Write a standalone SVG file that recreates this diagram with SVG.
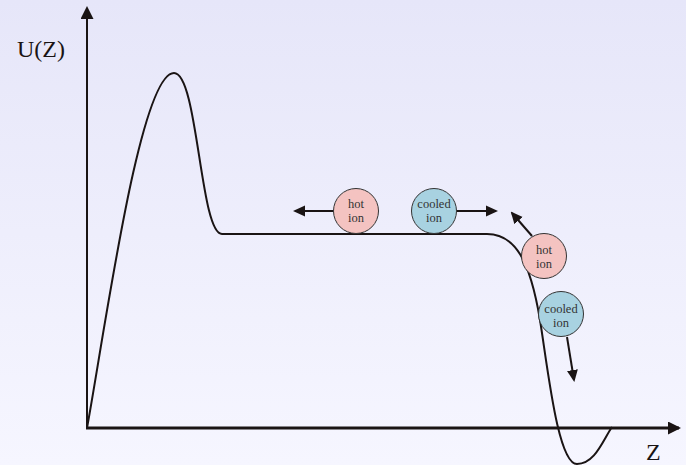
<svg xmlns="http://www.w3.org/2000/svg" width="686" height="465" viewBox="0 0 686 465">
<defs>
<linearGradient id="bg" x1="0" y1="0" x2="0" y2="1">
<stop offset="0" stop-color="#e6e6f9"/>
<stop offset="1" stop-color="#f6f6ff"/>
</linearGradient>
<marker id="ah" markerWidth="12" markerHeight="12" refX="10" refY="6" orient="auto" markerUnits="userSpaceOnUse" viewBox="0 0 12 12">
<path d="M0,0.5 L12,6 L0,11.5 z" fill="#1a1414"/>
</marker>
<marker id="axh" markerWidth="13" markerHeight="13" refX="11" refY="6.5" orient="auto" markerUnits="userSpaceOnUse" viewBox="0 0 13 13">
<path d="M0,0 L13,6.5 L0,13 z" fill="#1a1414"/>
</marker>
</defs>
<style>
.ax{stroke:#1a1414;fill:none}
.cv{stroke:#1a1414;stroke-width:2;fill:none}
.ar{stroke:#1a1414;stroke-width:2;fill:none;marker-end:url(#ah)}
.hot{fill:#f4c3c1;stroke:#333;stroke-width:1}
.cool{fill:#a8d2e1;stroke:#333;stroke-width:1}
.lbl{font-family:"Liberation Serif","Times New Roman","DejaVu Serif",serif;font-size:12.5px;fill:#333;text-anchor:middle}
.axl{font-family:"Liberation Serif","Times New Roman","DejaVu Serif",serif;font-size:24px;fill:#1a1414}
</style>
<rect width="686" height="465" fill="url(#bg)"/>
<g id="axes">
<line class="ax" x1="87" y1="429" x2="87" y2="8" stroke-width="2" marker-end="url(#axh)"/>
<line class="ax" x1="86" y1="428" x2="679" y2="428" stroke-width="3" marker-end="url(#axh)"/>
<text class="axl" x="17" y="57">U(Z)</text>
<text class="axl" x="646" y="460">Z</text>
</g>
<g id="potential">
<path class="cv" d="M87,428 C105,330 140,73 174,73 C198,73 200,234 222,234 L487,234 C515,234 530,260 540,320 C548,370 558,464 577,464 C595,464 603,440 612,427"/>
</g>
<g id="connectors">
<line class="ar" x1="333" y1="211" x2="295" y2="211"/>
<line class="ar" x1="457" y1="211" x2="496" y2="211"/>
<line class="ar" x1="532" y1="236" x2="512" y2="213"/>
<line class="ar" x1="567" y1="337" x2="574" y2="380"/>
</g>
<g id="hot1">
<circle class="hot" cx="356" cy="211" r="22.5"/>
<text class="lbl" x="356" y="208">hot</text>
<text class="lbl" x="356" y="222">ion</text>
</g>
<g id="cooled1">
<circle class="cool" cx="434" cy="211" r="22.5"/>
<text class="lbl" x="434" y="208">cooled</text>
<text class="lbl" x="434" y="222">ion</text>
</g>
<g id="hot2">
<circle class="hot" cx="544" cy="256" r="22.5"/>
<text class="lbl" x="544" y="254">hot</text>
<text class="lbl" x="544" y="268">ion</text>
</g>
<g id="cooled2">
<circle class="cool" cx="561" cy="314" r="22.5"/>
<text class="lbl" x="561" y="313">cooled</text>
<text class="lbl" x="561" y="327">ion</text>
</g>
</svg>
